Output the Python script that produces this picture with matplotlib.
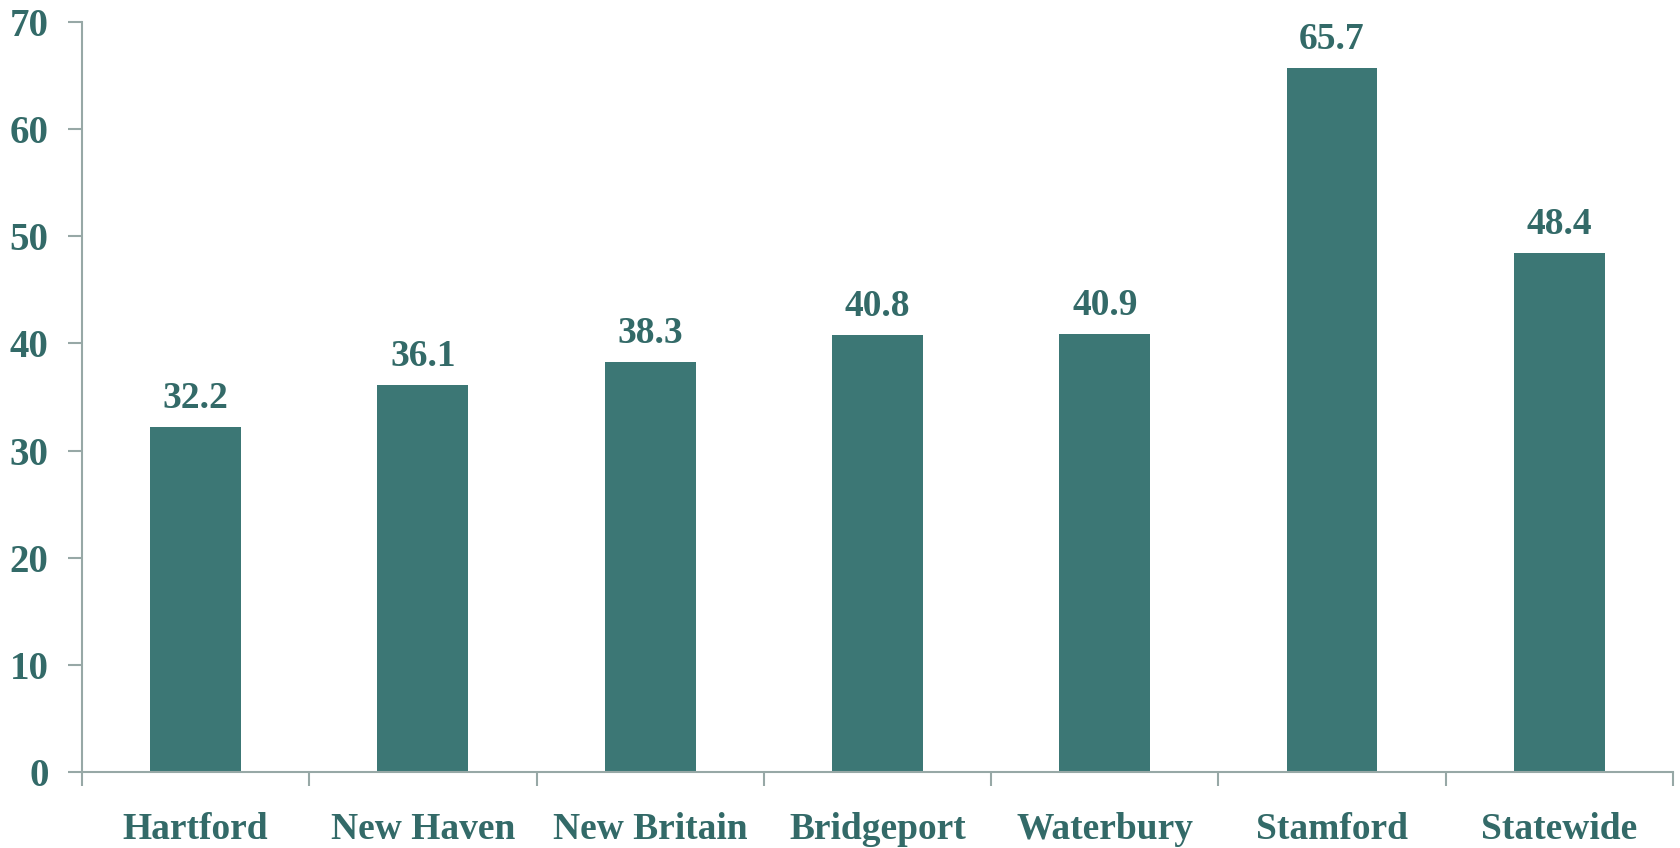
import matplotlib.pyplot as plt
import numpy as np

# dados
cidades = ['Hartford', 'New Haven', 'New Britain', 'Bridgeport', 'Waterbury', 'Stamford', 'Statewide']
valores = [32.2, 36.1, 38.3, 40.8, 40.9, 65.7, 48.4]
yticks = [0, 10, 20, 30, 40, 50, 60, 70]

cor_barra = '#3c7775'
cor_texto = '#336a68'
cor_eixo = '#97a8a6'

plt.rcParams['font.family'] = ['Liberation Serif', 'DejaVu Serif']
plt.rcParams['font.weight'] = 'bold'

fig = plt.figure(figsize=(16.81, 8.48), dpi=100)
ax = fig.add_axes([0.0488, 0.0896, 0.9464, 0.8844])

x = np.arange(len(cidades))
barras = ax.bar(x, valores, width=0.4, color=cor_barra)

# rótulos acima das barras
for xi, v in zip(x, valores):
    ax.annotate(f'{v:.1f}', (xi, v), xytext=(0, 8), textcoords='offset points',
                ha='center', va='bottom', fontsize=27, fontweight='bold', color=cor_texto)

ax.set_xlim(-0.5, len(cidades) - 0.5)
ax.set_ylim(0, 70)
ax.set_yticks(yticks)
ax.set_yticklabels([str(t) for t in yticks])

# ticks nas bordas das categorias, rótulos no centro
ax.set_xticks(np.arange(len(cidades) + 1) - 0.5)
ax.set_xticklabels([])
ax.set_xticks(x, minor=True)
ax.set_xticklabels(cidades, minor=True)
ax.tick_params(axis='x', which='minor', length=0, pad=29, labelsize=27, labelcolor=cor_texto)
ax.tick_params(axis='x', which='major', length=10, width=1.5, color=cor_eixo, direction='out')
ax.tick_params(axis='y', length=10, width=1.5, color=cor_eixo, direction='out',
               pad=14, labelsize=28, labelcolor=cor_texto)

for lado in ['top', 'right']:
    ax.spines[lado].set_visible(False)
for lado in ['left', 'bottom']:
    ax.spines[lado].set_color(cor_eixo)
    ax.spines[lado].set_linewidth(1.5)

plt.savefig('out.png', dpi=100)
